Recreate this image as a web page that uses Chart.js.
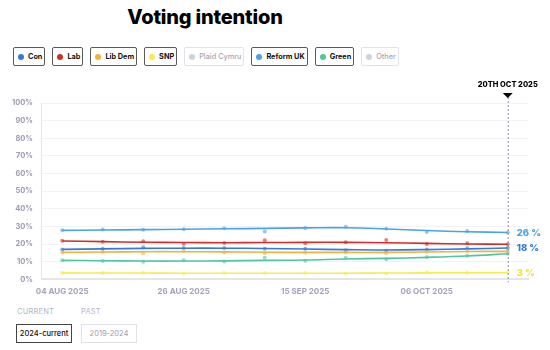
<!DOCTYPE html>
<html>
<head>
<meta charset="utf-8">
<script src="https://cdn.jsdelivr.net/npm/chart.js@4.4.1/dist/chart.umd.min.js"></script>
<style>
  html, body { margin: 0; padding: 0; background: #fff; }
  body { width: 550px; height: 350px; position: relative; overflow: hidden; font-family: Inter, "Noto Sans", sans-serif; }
  h1 { position: absolute; left: 0; top: 5px; width: 410px; margin: 0; text-align: center; font-size: 20px; font-weight: 800; color: #000; letter-spacing: -0.2px; }
  #legenda { position: absolute; left: 13px; top: 47px; display: flex; gap: 7px; }
  .btn-partido { box-sizing: border-box; height: 19px; border: 1px solid #5a5a5a; border-radius: 2px; padding: 0 2px 0 4px; display: flex; align-items: center; font-size: 7.3px; font-weight: 700; color: #111; }
  .btn-partido.off { border-color: #e2e3ea; color: #a4a7b8; font-weight: 500; }
  .btn-partido span.bola { width: 6px; height: 6px; border-radius: 50%; margin-right: 4px; display: inline-block; }
  #grafico-wrap { position: absolute; left: 0; top: 78px; width: 550px; height: 229px; }
  .rotulo { position: absolute; top: 307px; font-size: 7.5px; color: #b4b6c6; letter-spacing: 0.2px; }
  .btn-periodo { position: absolute; top: 324px; width: 56px; height: 19px; box-sizing: border-box; border: 1px solid #444; font-size: 7.5px; display: flex; align-items: center; justify-content: center; color: #111; font-weight: 500; }
  .btn-periodo.off { border-color: #e2e3ea; color: #9a9db0; font-weight: 400; }
</style>
</head>
<body>
<h1>Voting intention</h1>
<div id="legenda"></div>
<div id="grafico-wrap"><canvas id="graficoIntencao"></canvas></div>
<div class="rotulo" style="left:17px">CURRENT</div>
<div class="rotulo" style="left:81px">PAST</div>
<div class="btn-periodo" style="left:16px">2024-current</div>
<div class="btn-periodo off" style="left:81px">2019-2024</div>

<script>
// semanas (eixo x)
const semanas = ["04 AUG 2025", "11 AUG 2025", "18 AUG 2025", "26 AUG 2025", "01 SEP 2025", "08 SEP 2025",
  "15 SEP 2025", "22 SEP 2025", "29 SEP 2025", "06 OCT 2025", "13 OCT 2025", "20 OCT 2025"];
const rotulosEixoY = ["0%", "10%", "20%", "30%", "40%", "50%", "60%", "70%", "80%", "90%", "100%"];
const dataFinal = "20TH OCT 2025";

// partidos da legenda
const partidos = ["Con", "Lab", "Lib Dem", "SNP", "Plaid Cymru", "Reform UK", "Green", "Other"];
const coresPartidos = ["#2f7be0", "#d42c26", "#f4b136", "#f7ec4a", "#cfd2db", "#4aa2ea", "#4fc79c", "#cfd2db"];
const ativos = [true, true, true, true, false, true, true, false];

// tendência (linha) e pesquisas (pontos), em %
const reformTendencia = [27.8, 28.0, 28.2, 28.4, 28.7, 28.9, 29.2, 29.3, 28.6, 27.7, 27.0, 26.6];
const reformPesquisas = [27.8, 28.3, 28.2, 28.4, 29.0, 27.2, 29.2, 29.9, 28.7, 26.9, 27.4, 26.6];
const labTendencia = [21.8, 21.4, 21.1, 20.9, 20.8, 20.9, 21.0, 21.0, 20.8, 20.4, 20.1, 19.9];
const labPesquisas = [21.9, 21.3, 21.6, 20.2, 20.6, 22.2, 20.5, 21.0, 22.3, 20.1, 20.5, 19.9];
const conTendencia = [17.0, 17.3, 17.6, 17.7, 17.7, 17.5, 17.2, 16.9, 16.7, 16.9, 17.3, 17.8];
const conPesquisas = [17.0, 17.4, 18.2, 17.8, 17.8, 17.4, 17.4, 16.5, 16.3, 17.0, 17.6, 17.8];
const libDemTendencia = [15.3, 15.5, 15.7, 15.7, 15.6, 15.4, 15.3, 15.3, 15.3, 15.5, 15.8, 15.9];
const libDemPesquisas = [15.3, 15.5, 14.8, 16.1, 15.3, 14.8, 15.3, 15.3, 14.8, 15.7, 16.1, 15.9];
const greenTendencia = [10.8, 10.6, 10.4, 10.4, 10.5, 10.8, 11.0, 11.6, 11.9, 12.5, 13.3, 14.5];
const greenPesquisas = [10.8, 10.4, 10.0, 10.8, 10.2, 12.3, 10.6, 12.3, 11.4, 12.5, 13.4, 14.5];
const snpTendencia = [3.7, 3.6, 3.6, 3.5, 3.5, 3.5, 3.5, 3.5, 3.6, 3.7, 3.8, 3.8];
const snpPesquisas = [3.8, 3.6, 3.8, 3.4, 3.6, 3.6, 3.6, 3.4, 3.4, 4.1, 3.8, 3.9];

// rótulos no fim das linhas
const rotulosFinais = ["26 %", "18 %", "3 %"];

document.addEventListener("DOMContentLoaded", function () {
  const legenda = document.getElementById("legenda");
  partidos.forEach((nome, i) => {
    const btn = document.createElement("div");
    btn.className = "btn-partido" + (ativos[i] ? "" : " off");
    btn.innerHTML = `<span class="bola" style="background:${coresPartidos[i]}"></span>${nome}`;
    legenda.appendChild(btn);
  });

  const cor = (nome) => coresPartidos[partidos.indexOf(nome)];

  function serie(nome, tendencia, pesquisas) {
    return [
      {
        label: nome,
        data: tendencia,
        borderColor: cor(nome),
        borderWidth: 1.6,
        pointRadius: 0,
        tension: 0.4,
        fill: false,
      },
      {
        label: nome + " polls",
        data: pesquisas,
        showLine: false,
        pointRadius: 2,
        pointBorderWidth: 0,
        pointBackgroundColor: cor(nome) + "99",
      },
    ];
  }

  const datasets = [
    ...serie("SNP", snpTendencia, snpPesquisas),
    ...serie("Green", greenTendencia, greenPesquisas),
    ...serie("Lib Dem", libDemTendencia, libDemPesquisas),
    ...serie("Con", conTendencia, conPesquisas),
    ...serie("Lab", labTendencia, labPesquisas),
    ...serie("Reform UK", reformTendencia, reformPesquisas),
  ];

  // linha tracejada da última data + rótulos finais
  const marcadorFinal = {
    id: "marcadorFinal",
    afterDatasetsDraw(chart) {
      const { ctx, chartArea, scales } = chart;
      const ultimo = semanas.length - 1;
      const x = scales.x.getPixelForValue(ultimo);
      ctx.save();
      ctx.strokeStyle = "#8d92aa";
      ctx.lineWidth = 1;
      ctx.setLineDash([2, 2]);
      ctx.beginPath();
      ctx.moveTo(x + 0.5, chartArea.top - 6);
      ctx.lineTo(x + 0.5, chartArea.bottom + 3);
      ctx.stroke();
      ctx.setLineDash([]);
      ctx.fillStyle = "#000";
      ctx.beginPath();
      ctx.moveTo(x - 5, chartArea.top - 10);
      ctx.lineTo(x + 5, chartArea.top - 10);
      ctx.lineTo(x, chartArea.top - 5);
      ctx.closePath();
      ctx.fill();
      ctx.font = "800 7.5px Inter";
      ctx.textAlign = "center";
      ctx.textBaseline = "middle";
      ctx.fillText(dataFinal, x, chartArea.top - 18);

      const finais = [
        [rotulosFinais[0], reformTendencia[ultimo], cor("Reform UK")],
        [rotulosFinais[1], conTendencia[ultimo], cor("Con")],
        [rotulosFinais[2], snpTendencia[ultimo], "#f2e33c"],
      ];
      ctx.font = "800 9.5px Inter";
      ctx.textAlign = "left";
      finais.forEach(([texto, valor, c]) => {
        ctx.fillStyle = c;
        ctx.fillText(texto, x + 9, scales.y.getPixelForValue(valor) + 0.5);
      });
      ctx.restore();
    },
  };

  new Chart(document.getElementById("graficoIntencao").getContext("2d"), {
    type: "line",
    data: { labels: semanas, datasets: datasets },
    plugins: [marcadorFinal],
    options: {
      responsive: true,
      maintainAspectRatio: false,
      animation: false,
      layout: { padding: { top: 25, left: 3, right: 22, bottom: 4 } },
      plugins: { legend: { display: false }, tooltip: { enabled: false } },
      scales: {
        x: {
          offset: true,
          grid: { display: false, drawTicks: false },
          border: { color: "#e4e4ea", width: 2 },
          ticks: {
            autoSkip: false,
            maxRotation: 0,
            padding: 7,
            color: "#a3a2b8",
            font: { family: "Inter", size: 8, weight: "700" },
            callback: (v, i) => (i % 3 === 0 && i < semanas.length - 1 ? semanas[i] : ""),
          },
        },
        y: {
          min: 0,
          max: 100,
          grid: { color: "#f3f3f6", drawTicks: false },
          border: { color: "#e6e6ec", width: 1 },
          ticks: {
            stepSize: 10,
            padding: 9,
            color: "#9d9bb3",
            font: { family: "Inter", size: 7.5, weight: "700" },
            callback: (v) => rotulosEixoY[v / 10],
          },
        },
      },
    },
  });
});
</script>
</body>
</html>
